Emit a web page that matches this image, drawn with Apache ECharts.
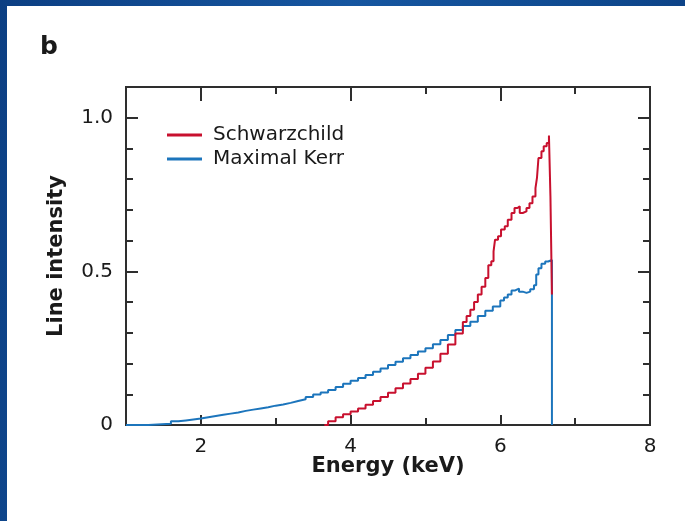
<!DOCTYPE html>
<html>
<head>
<meta charset="utf-8">
<script src="https://cdn.jsdelivr.net/npm/echarts@6/dist/echarts.min.js"></script>
<style>
  html, body { margin: 0; padding: 0; }
  body {
    width: 685px; height: 521px; overflow: hidden;
    background: linear-gradient(100deg, #0c3f83 0%, #1656a0 45%, #0f4a90 75%, #0b3d80 100%);
    position: relative;
  }
  #chart {
    position: absolute; left: 7px; top: 6px;
    width: 678px; height: 515px; background: #ffffff;
  }
</style>
</head>
<body>
<div id="chart"></div>
<script>
// Iron line profile: Schwarzschild vs maximal Kerr black hole (binned spectra)
const kerrEnergy = [1.0, 1.3, 1.6, 1.7, 1.8, 1.9, 2.0, 2.1, 2.2, 2.3, 2.4, 2.5, 2.6, 2.7, 2.8, 2.9,
  3.0, 3.1, 3.2, 3.3, 3.4, 3.5, 3.6, 3.7, 3.8, 3.9, 4.0, 4.1, 4.2, 4.3, 4.4, 4.5, 4.6, 4.7,
  4.8, 4.9, 5.0, 5.1, 5.2, 5.3, 5.4, 5.5, 5.6, 5.7, 5.8, 5.9, 6.0, 6.05, 6.1, 6.15, 6.2,
  6.25, 6.3, 6.35, 6.4, 6.45, 6.48, 6.51, 6.55, 6.6, 6.64, 6.69];
const kerrIntensity = [0, 0.004, 0.012, 0.015, 0.018, 0.021, 0.025, 0.029, 0.033, 0.037, 0.041,
  0.046, 0.050, 0.054, 0.058, 0.063, 0.067, 0.072, 0.078, 0.084, 0.091, 0.099, 0.106, 0.114,
  0.124, 0.134, 0.144, 0.153, 0.163, 0.173, 0.184, 0.195, 0.206, 0.217, 0.228, 0.239, 0.250,
  0.263, 0.277, 0.293, 0.309, 0.322, 0.336, 0.355, 0.372, 0.386, 0.405, 0.415, 0.425, 0.438,
  0.444, 0.434, 0.430, 0.434, 0.442, 0.455, 0.490, 0.510, 0.525, 0.532, 0.537, 0];

const schwEnergy = [3.65, 3.7, 3.8, 3.9, 4.0, 4.1, 4.2, 4.3, 4.4, 4.5, 4.6, 4.7, 4.8, 4.9, 5.0,
  5.1, 5.2, 5.3, 5.4, 5.5, 5.55, 5.6, 5.65, 5.7, 5.75, 5.8, 5.84, 5.88, 5.91, 5.93, 5.97,
  6.01, 6.06, 6.1, 6.15, 6.19, 6.23, 6.26, 6.3, 6.35, 6.39, 6.43, 6.47, 6.49, 6.51, 6.55,
  6.58, 6.62, 6.65, 6.67, 6.69];
const schwIntensity = [0, 0.012, 0.025, 0.035, 0.044, 0.054, 0.066, 0.078, 0.091, 0.105, 0.120,
  0.135, 0.150, 0.167, 0.186, 0.207, 0.232, 0.262, 0.298, 0.335, 0.355, 0.375, 0.400, 0.425,
  0.450, 0.478, 0.520, 0.533, 0.565, 0.603, 0.614, 0.636, 0.647, 0.668, 0.690, 0.706, 0.712,
  0.690, 0.695, 0.706, 0.722, 0.744, 0.771, 0.804, 0.869, 0.891, 0.907, 0.918, 0.942, 0.744,
  0.425];

const xMajorTicks = [2, 4, 6, 8];
const xMinorTicks = [3, 5, 7];
const yMajorTicks = [0, 0.5, 1.0];
const yMinorTicks = [0.1, 0.2, 0.3, 0.4, 0.6, 0.7, 0.8, 0.9];

const seriesNames = ['Schwarzchild', 'Maximal Kerr'];
const RED = '#c8102e';
const BLUE = '#1c75bc';
const AXIS = '#2e2e2e';
const TEXT = '#1a1a1a';
const FONT = 'DejaVu Sans';

function pairs(xs, ys) { return xs.map((x, i) => [x, ys[i]]); }

function xAxisDef(pos, ticks, len, withLabels) {
  return {
    type: 'value', position: pos, min: 1, max: 8,
    axisLine: { show: true, onZero: false, lineStyle: { color: AXIS, width: 2 } },
    axisTick: { show: true, inside: true, length: len, customValues: ticks,
      lineStyle: { color: AXIS, width: 2 } },
    axisLabel: withLabels ? { show: true, customValues: ticks, margin: 12,
      fontFamily: FONT, fontSize: 20, color: TEXT } : { show: false },
    splitLine: { show: false }
  };
}
function yAxisDef(pos, ticks, len, withLabels) {
  return {
    type: 'value', position: pos, min: 0, max: 1.1,
    axisLine: { show: true, onZero: false, lineStyle: { color: AXIS, width: 2 } },
    axisTick: { show: true, inside: true, length: len, customValues: ticks,
      lineStyle: { color: AXIS, width: 2 } },
    axisLabel: withLabels ? { show: true, customValues: ticks, margin: 13,
      fontFamily: FONT, fontSize: 20, color: TEXT,
      formatter: v => (v === 0 ? '0' : v.toFixed(1)) } : { show: false },
    splitLine: { show: false }
  };
}

const chart = echarts.init(document.getElementById('chart'), null, { renderer: 'canvas' });

const bottomMajor = xAxisDef('bottom', xMajorTicks, 10, true);
bottomMajor.name = 'Energy (keV)';
bottomMajor.nameLocation = 'middle';
bottomMajor.nameGap = 31;
bottomMajor.nameMoveOverlap = false;
bottomMajor.nameTextStyle = { fontFamily: FONT, fontWeight: 'bold', fontSize: 21, color: TEXT };

const leftMajor = yAxisDef('left', yMajorTicks, 12, true);
leftMajor.name = 'Line intensity';
leftMajor.nameLocation = 'middle';
leftMajor.nameGap = 59;
leftMajor.nameMoveOverlap = false;
leftMajor.nameTextStyle = { fontFamily: FONT, fontWeight: 'bold', fontSize: 21, color: TEXT };

chart.setOption({
  animation: false,
  title: {
    text: 'b', left: 28, top: 24,
    textStyle: { fontFamily: FONT, fontWeight: 'bold', fontSize: 25, color: TEXT }
  },
  legend: {
    data: seriesNames, orient: 'vertical', left: 155, top: 114,
    icon: 'rect', itemWidth: 35, itemHeight: 3, itemGap: 4,
    textStyle: { fontFamily: FONT, fontSize: 20, color: TEXT, padding: [0, 0, 0, 6] }
  },
  grid: { left: 119, right: 35, top: 81, bottom: 96 },
  xAxis: [
    bottomMajor,
    xAxisDef('bottom', xMinorTicks, 7, false),
    xAxisDef('top', xMajorTicks, 14, false),
    xAxisDef('top', xMinorTicks, 7, false)
  ],
  yAxis: [
    leftMajor,
    yAxisDef('left', yMinorTicks, 7, false),
    yAxisDef('right', yMajorTicks, 12, false),
    yAxisDef('right', yMinorTicks, 7, false)
  ],
  series: [
    {
      name: seriesNames[0], type: 'line', step: 'end', showSymbol: false, z: 4,
      data: pairs(schwEnergy, schwIntensity),
      lineStyle: { color: RED, width: 2 }, itemStyle: { color: RED }
    },
    {
      name: seriesNames[1], type: 'line', step: 'end', showSymbol: false, z: 3,
      data: pairs(kerrEnergy, kerrIntensity),
      lineStyle: { color: BLUE, width: 2 }, itemStyle: { color: BLUE }
    }
  ]
});
</script>
</body>
</html>
